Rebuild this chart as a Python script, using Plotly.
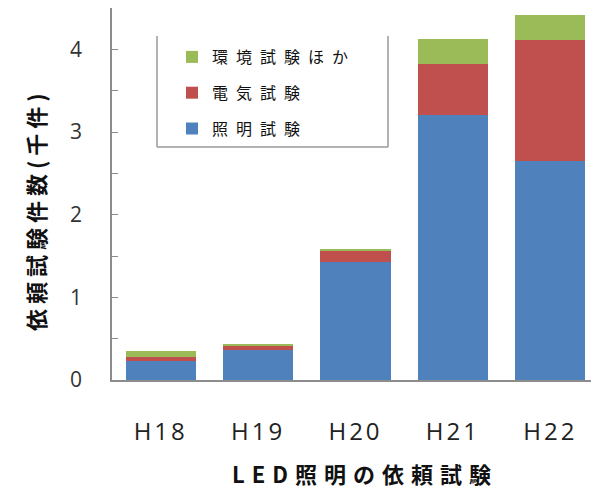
import plotly.graph_objects as go

categories = ["H18", "H19", "H20", "H21", "H22"]
lighting = [0.23, 0.36, 1.43, 3.20, 2.65]
electrical = [0.05, 0.055, 0.14, 0.62, 1.46]
environment = [0.07, 0.02, 0.01, 0.30, 0.31]

names = ["照明試験", "電気試験", "環境試験ほか"]
colors = ["#4F81BD", "#C0504D", "#9BBB59"]
series = [lighting, electrical, environment]
ranks = [3, 2, 1]

font_jp = "Noto Sans CJK JP"

def spaced(t, px):
    return '<span style="letter-spacing:%dpx">%s</span>' % (px, t)

fig = go.Figure()
for i, (name, vals, col) in enumerate(zip(names, series, colors)):
    fig.add_trace(go.Bar(x=categories, y=vals, name=spaced(name, 8), legendgroup="g%d" % i,
                         legendrank=ranks[i],
                         marker=dict(color=col, line=dict(width=0)), width=0.72))

OFF = 8  # page body margin
W, H = 599 - OFF, 503 - OFF
L, R, T = 112 - OFF, 0, 8 - OFF
B = H - T - 372
pw, ph = W - L - R, H - T - B

def px_x(x):
    return (x - OFF - L) / pw

def px_y(y):
    return (H - B - (y - OFF)) / ph

line_style = dict(color="#9A9A9A", width=1.5)
shapes = [
    dict(type="line", xref="paper", yref="paper", x0=px_x(157), x1=px_x(157), y0=px_y(36), y1=px_y(147), line=line_style),
    dict(type="line", xref="paper", yref="paper", x0=px_x(388), x1=px_x(388), y0=px_y(36), y1=px_y(147), line=line_style),
    dict(type="line", xref="paper", yref="paper", x0=px_x(157), x1=px_x(388), y0=px_y(147), y1=px_y(147), line=line_style),
]

annotations = [
    dict(text=spaced("<b>依頼試験件数(千件)</b>", 5), xref="paper", yref="paper",
         x=px_x(35), y=px_y(210), textangle=-90, showarrow=False,
         xanchor="center", yanchor="middle", font=dict(family=font_jp, size=22, color="#111")),
    dict(text=spaced("<b>LED照明の依頼試験</b>", 7), xref="paper", yref="paper",
         x=px_x(365), y=px_y(473), showarrow=False,
         xanchor="center", yanchor="middle", font=dict(family=font_jp, size=22, color="#111")),
]

fig.update_layout(
    width=W, height=H,
    barmode="stack",
    plot_bgcolor="white", paper_bgcolor="white",
    margin=dict(l=L, r=R, t=T, b=B),
    showlegend=True,
    legend=dict(x=px_x(172), y=px_y(40), xanchor="left", yanchor="top",
                traceorder="grouped", borderwidth=0,
                bgcolor="rgba(0,0,0,0)", font=dict(family=font_jp, size=16, color="#111"),
                itemwidth=30, tracegroupgap=12),
    shapes=shapes,
    annotations=annotations,
    xaxis=dict(range=[-0.5, 4.5], showline=True, linecolor="#8C8C8C", linewidth=1.5,
               ticks="", automargin=False,
               tickmode="array", tickvals=categories, ticktext=[spaced(c, 3) for c in categories],
               tickfont=dict(family="Open Sans", size=24, color="#222"),
               ticklabelstandoff=29),
    yaxis=dict(range=[0, 4.5], dtick=1, showline=True, linecolor="#8C8C8C", linewidth=1.5,
               showgrid=False, zeroline=False, automargin=False,
               ticks="inside", ticklen=6, tickcolor="#8C8C8C",
               minor=dict(dtick=0.5, ticks="inside", ticklen=6, tickcolor="#8C8C8C"),
               tickfont=dict(family="Open Sans", size=21, color="#333"),
               ticklabelstandoff=24),
)

fig.write_html("out.html")
